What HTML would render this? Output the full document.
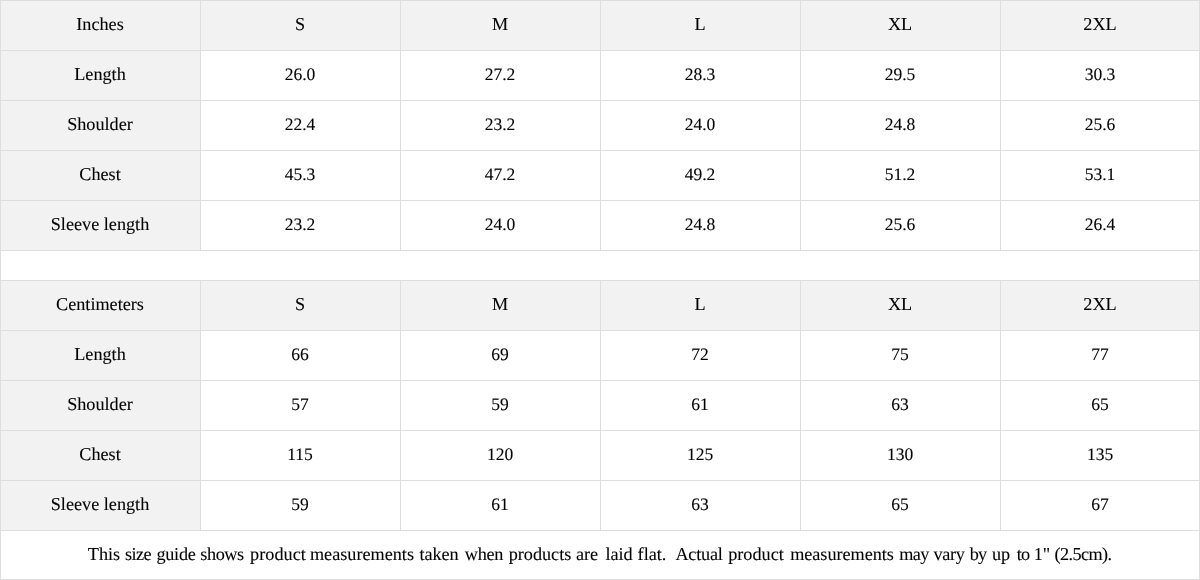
<!DOCTYPE html>
<html><head><meta charset="utf-8"><style>
html,body{margin:0;padding:0;background:#fff;}
body{width:1200px;height:580px;position:relative;overflow:hidden;font-family:"Liberation Serif",serif;}
body>div{position:absolute;}
.t{position:absolute;will-change:transform;text-rendering:geometricPrecision;-webkit-text-stroke:0.1px #000;width:300px;text-align:center;font-size:18.2px;line-height:0;color:#000;white-space:nowrap;}
.n{font-size:17.5px;}
</style></head><body>
<div style="left:0px;top:0px;width:1200px;height:50px;background:#f2f2f2"></div>
<div style="left:0px;top:0px;width:200px;height:250px;background:#f2f2f2"></div>
<div style="left:0px;top:280px;width:1200px;height:50px;background:#f2f2f2"></div>
<div style="left:0px;top:280px;width:200px;height:250px;background:#f2f2f2"></div>
<div style="left:0px;top:0px;width:1200px;height:1px;background:#dedede"></div>
<div style="left:0px;top:50px;width:1200px;height:1px;background:#dedede"></div>
<div style="left:0px;top:100px;width:1200px;height:1px;background:#dedede"></div>
<div style="left:0px;top:150px;width:1200px;height:1px;background:#dedede"></div>
<div style="left:0px;top:200px;width:1200px;height:1px;background:#dedede"></div>
<div style="left:0px;top:250px;width:1200px;height:1px;background:#dedede"></div>
<div style="left:0px;top:280px;width:1200px;height:1px;background:#dedede"></div>
<div style="left:0px;top:330px;width:1200px;height:1px;background:#dedede"></div>
<div style="left:0px;top:380px;width:1200px;height:1px;background:#dedede"></div>
<div style="left:0px;top:430px;width:1200px;height:1px;background:#dedede"></div>
<div style="left:0px;top:480px;width:1200px;height:1px;background:#dedede"></div>
<div style="left:0px;top:530px;width:1200px;height:1px;background:#dedede"></div>
<div style="left:0px;top:579px;width:1200px;height:1px;background:#dedede"></div>
<div style="left:200px;top:0px;width:1px;height:250px;background:#dedede"></div>
<div style="left:400px;top:0px;width:1px;height:250px;background:#dedede"></div>
<div style="left:600px;top:0px;width:1px;height:250px;background:#dedede"></div>
<div style="left:800px;top:0px;width:1px;height:250px;background:#dedede"></div>
<div style="left:1000px;top:0px;width:1px;height:250px;background:#dedede"></div>
<div style="left:200px;top:280px;width:1px;height:250px;background:#dedede"></div>
<div style="left:400px;top:280px;width:1px;height:250px;background:#dedede"></div>
<div style="left:600px;top:280px;width:1px;height:250px;background:#dedede"></div>
<div style="left:800px;top:280px;width:1px;height:250px;background:#dedede"></div>
<div style="left:1000px;top:280px;width:1px;height:250px;background:#dedede"></div>
<div style="left:0px;top:0px;width:1px;height:580px;background:#dedede"></div>
<div style="left:1199px;top:0px;width:1px;height:580px;background:#dedede"></div>
<span class="t" style="left:-50px;top:24px">Inches</span>
<span class="t" style="left:150px;top:24px">S</span>
<span class="t" style="left:350px;top:24px">M</span>
<span class="t" style="left:550px;top:24px">L</span>
<span class="t" style="left:750px;top:24px">XL</span>
<span class="t" style="left:950px;top:24px">2XL</span>
<span class="t" style="left:-50px;top:74px">Length</span>
<span class="t n" style="left:150px;top:74px">26.0</span>
<span class="t n" style="left:350px;top:74px">27.2</span>
<span class="t n" style="left:550px;top:74px">28.3</span>
<span class="t n" style="left:750px;top:74px">29.5</span>
<span class="t n" style="left:950px;top:74px">30.3</span>
<span class="t" style="left:-50px;top:124px">Shoulder</span>
<span class="t n" style="left:150px;top:124px">22.4</span>
<span class="t n" style="left:350px;top:124px">23.2</span>
<span class="t n" style="left:550px;top:124px">24.0</span>
<span class="t n" style="left:750px;top:124px">24.8</span>
<span class="t n" style="left:950px;top:124px">25.6</span>
<span class="t" style="left:-50px;top:174px">Chest</span>
<span class="t n" style="left:150px;top:174px">45.3</span>
<span class="t n" style="left:350px;top:174px">47.2</span>
<span class="t n" style="left:550px;top:174px">49.2</span>
<span class="t n" style="left:750px;top:174px">51.2</span>
<span class="t n" style="left:950px;top:174px">53.1</span>
<span class="t" style="left:-50px;top:224px">Sleeve length</span>
<span class="t n" style="left:150px;top:224px">23.2</span>
<span class="t n" style="left:350px;top:224px">24.0</span>
<span class="t n" style="left:550px;top:224px">24.8</span>
<span class="t n" style="left:750px;top:224px">25.6</span>
<span class="t n" style="left:950px;top:224px">26.4</span>
<span class="t" style="left:-50px;top:304px">Centimeters</span>
<span class="t" style="left:150px;top:304px">S</span>
<span class="t" style="left:350px;top:304px">M</span>
<span class="t" style="left:550px;top:304px">L</span>
<span class="t" style="left:750px;top:304px">XL</span>
<span class="t" style="left:950px;top:304px">2XL</span>
<span class="t" style="left:-50px;top:354px">Length</span>
<span class="t n" style="left:150px;top:354px">66</span>
<span class="t n" style="left:350px;top:354px">69</span>
<span class="t n" style="left:550px;top:354px">72</span>
<span class="t n" style="left:750px;top:354px">75</span>
<span class="t n" style="left:950px;top:354px">77</span>
<span class="t" style="left:-50px;top:404px">Shoulder</span>
<span class="t n" style="left:150px;top:404px">57</span>
<span class="t n" style="left:350px;top:404px">59</span>
<span class="t n" style="left:550px;top:404px">61</span>
<span class="t n" style="left:750px;top:404px">63</span>
<span class="t n" style="left:950px;top:404px">65</span>
<span class="t" style="left:-50px;top:454px">Chest</span>
<span class="t n" style="left:150px;top:454px">115</span>
<span class="t n" style="left:350px;top:454px">120</span>
<span class="t n" style="left:550px;top:454px">125</span>
<span class="t n" style="left:750px;top:454px">130</span>
<span class="t n" style="left:950px;top:454px">135</span>
<span class="t" style="left:-50px;top:504px">Sleeve length</span>
<span class="t n" style="left:150px;top:504px">59</span>
<span class="t n" style="left:350px;top:504px">61</span>
<span class="t n" style="left:550px;top:504px">63</span>
<span class="t n" style="left:750px;top:504px">65</span>
<span class="t n" style="left:950px;top:504px">67</span>
<span class="t" style="left:-46.00px;top:554px;letter-spacing:0.000px">This</span>
<span class="t" style="left:-11.60px;top:554px;letter-spacing:-0.583px">size</span>
<span class="t" style="left:25.80px;top:554px;letter-spacing:-0.262px">guide</span>
<span class="t" style="left:71.80px;top:554px;letter-spacing:-0.437px">shows</span>
<span class="t" style="left:127.50px;top:554px;letter-spacing:0.058px">product</span>
<span class="t" style="left:212.20px;top:554px;letter-spacing:0.000px">measurements</span>
<span class="t" style="left:289.40px;top:554px;letter-spacing:-0.087px">taken</span>
<span class="t" style="left:334.30px;top:554px;letter-spacing:-0.233px">when</span>
<span class="t" style="left:389.80px;top:554px;letter-spacing:-0.000px">products</span>
<span class="t" style="left:437.20px;top:554px;letter-spacing:0.000px">are</span>
<span class="t" style="left:468.60px;top:554px;letter-spacing:-0.117px">laid</span>
<span class="t" style="left:501.50px;top:554px;letter-spacing:0.000px">flat.</span>
<span class="t" style="left:549.10px;top:554px;letter-spacing:-0.210px">Actual</span>
<span class="t" style="left:606.20px;top:554px;letter-spacing:0.000px">product</span>
<span class="t" style="left:692.40px;top:554px;letter-spacing:-0.032px">measurements</span>
<span class="t" style="left:763.50px;top:554px;letter-spacing:-0.660px">may</span>
<span class="t" style="left:798.90px;top:554px;letter-spacing:-0.350px">vary</span>
<span class="t" style="left:828.10px;top:554px;letter-spacing:-0.800px">by</span>
<span class="t" style="left:851.00px;top:554px;letter-spacing:0.000px">up</span>
<span class="t" style="left:872.90px;top:554px;letter-spacing:-0.800px">to</span>
<span class="t" style="left:891.80px;top:554px;letter-spacing:0.000px">1&quot;</span>
<span class="t" style="left:932.80px;top:554px;letter-spacing:-0.600px">(2.5cm).</span>
</body></html>
